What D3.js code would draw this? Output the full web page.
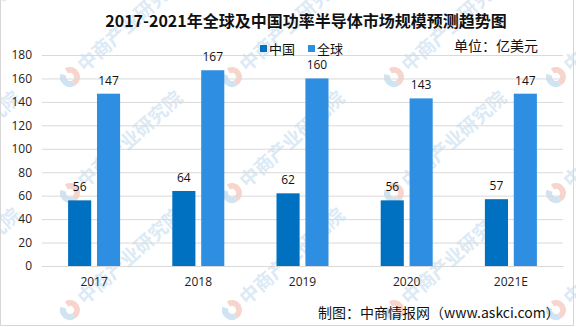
<!DOCTYPE html>
<html>
<head>
<meta charset="utf-8">
<script src="https://cdn.jsdelivr.net/npm/d3@7/dist/d3.min.js"></script>
<style>
  html, body { margin: 0; padding: 0; background: #fff; }
  svg { display: block; }
</style>
</head>
<body>
<svg id="chart" width="576" height="327"></svg>
<script>
// Power semiconductor market size, global vs China (USD 100M)
const years = ["2017", "2018", "2019", "2020", "2021E"];
const seriesNames = ["中国", "全球"];
const chinaValues = [56, 64, 62, 56, 57];
const globalValues = [147, 167, 160, 143, 147];
const yTicks = [0, 20, 40, 60, 80, 100, 120, 140, 160, 180];

const colors = { "中国": "#0070c0", "全球": "#2e8fe2" };
const font = "'Noto Sans CJK SC', 'Noto Sans', sans-serif";

const svg = d3.select("#chart");
const plot = { left: 42, right: 563, top: 55, bottom: 266 };

// Background watermark lattice
const wm = svg.append("g").attr("class", "watermark");
const wmXs = [-92, 70, 232, 394, 556];
const wmYs = [77, 193, 310];
wmYs.forEach(wy => wmXs.forEach(wx => {
  const g = wm.append("g").attr("transform", `translate(${wx},${wy}) rotate(-42)`);
  g.append("path")
    .attr("d", d3.arc()({ innerRadius: 4, outerRadius: 10, startAngle: 0.2, endAngle: Math.PI + 0.2 }))
    .attr("fill", "#f7d5cc");
  g.append("path")
    .attr("d", d3.arc()({ innerRadius: 4, outerRadius: 10, startAngle: Math.PI + 0.2, endAngle: 2 * Math.PI - 0.5 }))
    .attr("fill", "#d0e3f3");
  g.append("text")
    .attr("x", 14).attr("y", 7)
    .attr("font-family", font).attr("font-size", 19).attr("font-weight", "bold")
    .attr("fill", "#dceaf6")
    .text("中商产业研究院");
}));

// Scales
const x0 = d3.scaleBand().domain(years).range([plot.left, plot.right]).padding(0);
const groupHalf = 26;
const x1 = d3.scaleBand().domain(seriesNames)
  .range([x0.bandwidth() / 2 - groupHalf, x0.bandwidth() / 2 + groupHalf])
  .paddingInner(0.2).paddingOuter(0);
const y = d3.scaleLinear().domain([0, 180]).range([plot.bottom, plot.top]);

// Gridlines and y tick labels
const yAxis = d3.axisLeft(y).tickValues(yTicks).tickSize(-(plot.right - plot.left)).tickPadding(10);
const yg = svg.append("g").attr("transform", `translate(${plot.left},0)`).call(yAxis);
yg.select(".domain").remove();
yg.selectAll(".tick line").attr("stroke", "#d9d9d9").attr("stroke-width", 1);
yg.selectAll(".tick text")
  .attr("font-family", "'Open Sans', sans-serif").attr("font-size", 12).attr("fill", "#222");

// X axis
const xAxis = d3.axisBottom(x0).tickSize(0).tickPadding(11);
const xg = svg.append("g").attr("transform", `translate(0,${plot.bottom})`).call(xAxis);
xg.select(".domain").attr("stroke", "#d9d9d9");
xg.selectAll(".tick text")
  .attr("font-family", "'Open Sans', sans-serif").attr("font-size", 12).attr("fill", "#222");

// Bars
const rows = years.map((yr, i) => ({ year: yr, values: [
  { key: "中国", value: chinaValues[i] },
  { key: "全球", value: globalValues[i] }
]}));

const groups = svg.append("g").selectAll("g").data(rows).join("g")
  .attr("transform", d => `translate(${x0(d.year)},0)`);

groups.selectAll("rect").data(d => d.values).join("rect")
  .attr("x", d => x1(d.key))
  .attr("y", d => y(d.value))
  .attr("width", x1.bandwidth())
  .attr("height", d => y(0) - y(d.value))
  .attr("fill", d => colors[d.key]);

groups.selectAll("text.val").data(d => d.values).join("text")
  .attr("class", "val")
  .attr("x", d => x1(d.key) + x1.bandwidth() / 2)
  .attr("y", d => y(d.value) - 9)
  .attr("text-anchor", "middle")
  .attr("font-family", "'Open Sans', sans-serif").attr("font-size", 12).attr("fill", "#111")
  .text(d => d.value);

// Title
svg.append("text")
  .attr("x", 306).attr("y", 27)
  .attr("text-anchor", "middle")
  .attr("font-family", font).attr("font-size", 16).attr("font-weight", "bold").attr("fill", "#111")
  .text("2017-2021年全球及中国功率半导体市场规模预测趋势图");

// Legend
const legendX = [260, 308];
seriesNames.forEach((name, i) => {
  svg.append("rect").attr("x", legendX[i]).attr("y", 45).attr("width", 7).attr("height", 7)
    .attr("fill", colors[name]);
  svg.append("text").attr("x", legendX[i] + 9).attr("y", 53.5)
    .attr("font-family", font).attr("font-size", 13).attr("fill", "#111")
    .text(name);
});

// Unit note
svg.append("text")
  .attr("x", 454).attr("y", 51)
  .attr("font-family", font).attr("font-size", 14).attr("fill", "#111")
  .text("单位：亿美元");

// Source note
svg.append("text")
  .attr("x", 318).attr("y", 318)
  .attr("font-family", font).attr("font-size", 14).attr("fill", "#111")
  .text("制图：中商情报网（www.askci.com）");

// Frame
svg.append("rect")
  .attr("x", 0.5).attr("y", -1).attr("width", 573).attr("height", 326.5)
  .attr("fill", "none").attr("stroke", "#d6d6d6");
</script>
</body>
</html>
